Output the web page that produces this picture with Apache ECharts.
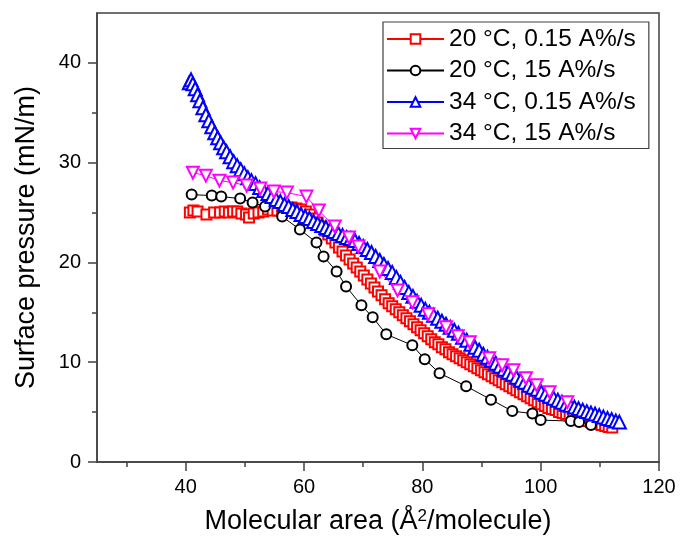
<!DOCTYPE html>
<html>
<head>
<meta charset="utf-8">
<script src="https://cdn.jsdelivr.net/npm/echarts@6/dist/echarts.min.js"></script>
<style>
  html, body { margin: 0; padding: 0; background: #fff; }
  #chart { width: 681px; height: 540px; }
</style>
</head>
<body>
<div id="chart"></div>
<script>
// 刻度
var xTicks = [40, 60, 80, 100, 120];
var xMinor = [30, 50, 70, 90, 110];
var yTicks = [0, 10, 20, 30, 40];
var yMinor = [5, 15, 25, 35];

var seriesNames = ['20 °C, 0.15 A%/s', '20 °C, 15 A%/s', '34 °C, 0.15 A%/s', '34 °C, 15 A%/s'];

// 20 °C, 0.15 A%/s
var red = [[40.7,25.0],[41.3,25.2],[42.0,25.1],[43.5,24.8],[44.8,25.0],[45.8,25.0],[46.6,25.1],[47.3,25.0],[48.0,25.1],[48.7,25.1],
  [49.4,24.9],[50.2,24.8],[50.7,24.5],[51.5,24.9],[52.3,25.0],[53.1,25.1],[53.9,25.3],[54.7,25.2],[55.5,25.2],[56.3,25.3],
  [57.1,25.4],[57.9,25.5],[58.7,25.4],[59.5,25.3],[60.3,25.1],[61.0,24.8],[61.7,24.4],[62.3,24.0],[62.9,23.6],[63.5,23.2],
  [64.1,22.8],[64.7,22.4],[65.3,22.0],[65.9,21.5],[66.5,21.1],[67.1,20.7],[67.7,20.3],[68.3,19.9],[68.9,19.5],[69.5,19.1],
  [70.1,18.7],[70.7,18.3],[71.3,17.9],[71.9,17.5],[72.5,17.1],[73.1,16.7],[73.7,16.3],[74.3,15.9],[74.9,15.6],[75.5,15.3],
  [76.1,15.0],[76.7,14.7],[77.3,14.4],[77.9,14.1],[78.5,13.8],[79.1,13.5],[79.7,13.2],[80.3,12.9],[80.9,12.6],[81.5,12.3],
  [82.1,12.0],[82.7,11.8],[83.3,11.5],[83.9,11.3],[84.5,11.0],[85.1,10.8],[85.7,10.6],[86.3,10.4],[86.9,10.2],[87.5,10.0],
  [88.1,9.8],[88.7,9.6],[89.3,9.4],[89.9,9.2],[90.5,9.0],[91.1,8.8],[91.7,8.6],[92.3,8.4],[92.9,8.2],[93.5,8.0],
  [94.1,7.8],[94.7,7.6],[95.3,7.4],[95.9,7.2],[96.5,7.0],[97.1,6.8],[97.7,6.6],[98.3,6.4],[98.9,6.2],[99.5,6.0],
  [100.1,5.8],[100.7,5.6],[101.3,5.4],[101.9,5.3],[102.5,5.2],[103.1,5.0],[103.7,4.9],[104.3,4.8],[104.9,4.6],[105.5,4.5],
  [106.1,4.4],[106.7,4.3],[107.3,4.2],[107.9,4.1],[108.5,4.0],[109.1,3.9],[109.7,3.8],[110.3,3.7],[110.9,3.6],[111.5,3.5],[112.1,3.45]];

// 20 °C, 15 A%/s
var black = [[41.0,26.8],[44.4,26.7],[46.0,26.6],[49.2,26.4],[51.3,26.0],[53.4,25.6],[56.3,24.6],[59.3,23.3],[62.1,22.0],[63.3,20.6],
  [65.5,19.1],[67.1,17.6],[69.7,15.7],[71.6,14.5],[73.9,12.8],[78.3,11.7],[80.4,10.3],[82.9,8.9],[87.4,7.6],[91.6,6.25],
  [95.2,5.1],[98.6,4.85],[100.0,4.2],[105.1,4.1],[106.5,4.0],[108.5,3.7]];

// 34 °C, 0.15 A%/s
var blue = [[40.6,38.0],[40.9,38.3],[41.2,37.9],[41.6,37.4],[42.0,36.8],[42.4,36.2],[42.9,35.5],[43.4,34.8],[43.9,34.2],[44.4,33.6],
  [44.9,33.0],[45.4,32.5],[45.9,32.0],[46.4,31.5],[46.9,31.1],[47.5,30.6],[48.1,30.1],[48.7,29.7],[49.3,29.3],[49.9,28.9],
  [50.5,28.5],[51.1,28.2],[51.8,27.9],[52.5,27.5],[53.2,27.2],[53.9,26.9],[54.6,26.6],[55.3,26.3],[56.0,26.1],[56.7,25.8],
  [57.4,25.6],[58.1,25.3],[58.8,25.1],[59.5,24.8],[60.2,24.6],[60.9,24.4],[61.6,24.1],[62.3,23.9],[63.0,23.7],[63.7,23.5],
  [64.4,23.3],[65.1,23.1],[65.8,22.9],[66.5,22.7],[67.2,22.5],[67.9,22.4],[68.6,22.2],[69.3,21.9],[70.0,21.6],[70.7,21.3],
  [71.4,21.0],[72.1,20.6],[72.8,20.2],[73.5,19.8],[74.2,19.4],[74.9,19.0],[75.6,18.5],[76.3,18.0],[77.0,17.5],[77.7,17.0],
  [78.4,16.6],[79.1,16.1],[79.8,15.7],[80.5,15.3],[81.2,15.0],[81.9,14.7],[82.6,14.4],[83.3,14.1],[84.0,13.8],[84.7,13.5],
  [85.4,13.2],[86.1,12.9],[86.8,12.5],[87.5,12.2],[88.2,11.8],[88.9,11.5],[89.6,11.2],[90.3,10.8],[91.0,10.5],[91.7,10.2],
  [92.4,9.9],[93.1,9.6],[93.8,9.3],[94.5,9.0],[95.2,8.8],[95.9,8.5],[96.6,8.2],[97.3,8.0],[98.0,7.7],[98.7,7.5],
  [99.4,7.3],[100.1,7.0],[100.8,6.8],[101.5,6.6],[102.2,6.4],[102.9,6.2],[103.6,6.0],[104.3,5.8],[105.0,5.7],[105.7,5.5],
  [106.4,5.35],[107.1,5.2],[107.8,5.05],[108.5,4.9],[109.2,4.8],[109.9,4.65],[110.6,4.5],[111.3,4.35],[112.0,4.25],[112.7,4.1],[113.3,4.0]];

// 34 °C, 15 A%/s
var magenta = [[41.2,29.0],[43.4,28.7],[45.7,28.2],[48.0,28.0],[50.3,27.7],[52.6,27.4],[54.9,27.1],[57.1,27.0],[60.4,26.6],[62.5,25.2],
  [65.2,23.6],[67.6,22.5],[69.2,21.6],[72.8,19.1],[75.8,17.2],[78.3,16.0],[81.0,14.8],[84.0,13.5],[86.0,12.6],[88.0,12.0],
  [91.3,10.4],[93.5,9.7],[95.4,9.2],[97.5,8.4],[99.3,7.7],[101.5,7.0],[104.5,6.0]];

var font = 'Liberation Sans, Arial, sans-serif';
var axisColor = '#404040';

var chart = echarts.init(document.getElementById('chart'));

function mkSeries(name, data, color, symbol, size, rotate) {
    return {
        name: name,
        type: 'line',
        data: data,
        symbol: symbol,
        symbolSize: size,
        symbolRotate: rotate || 0,
        showAllSymbol: true,
        lineStyle: { color: color, width: 1 },
        itemStyle: { color: color, borderColor: color, borderWidth: 1.2 }
    };
}

var option = {
    animation: false,
    backgroundColor: '#fff',
    grid: {
        left: 97, right: 22, top: 13, bottom: 76,
        show: true,
        borderColor: axisColor,
        borderWidth: 1.5
    },
    legend: {
        orient: 'vertical',
        left: 383,
        top: 22,
        padding: [4, 13, 2, 3],
        itemWidth: 57,
        itemHeight: 12,
        itemGap: 5.5,
        borderColor: axisColor,
        borderWidth: 1.2,
        selectedMode: false,
        textStyle: { fontFamily: font, fontSize: 24.5, color: '#000', lineHeight: 26 },
        data: seriesNames
    },
    xAxis: [{
        type: 'value',
        min: 25,
        max: 120,
        name: 'Molecular area (Å{sup|2}/molecule)',
        nameLocation: 'middle',
        nameGap: 46,
        nameTextStyle: {
            fontFamily: font, fontSize: 27, color: '#000',
            rich: { sup: { fontFamily: font, fontSize: 17, color: '#000', verticalAlign: 'top' } }
        },
        axisLine: { lineStyle: { color: axisColor, width: 1.5 } },
        axisTick: { show: true, length: 9, customValues: xTicks, lineStyle: { color: axisColor, width: 1.5 } },
        axisLabel: { customValues: xTicks, margin: 15, fontFamily: font, fontSize: 20, color: '#000' },
        splitLine: { show: false }
    }, {
        type: 'value',
        min: 25,
        max: 120,
        position: 'bottom',
        axisLine: { show: false },
        axisTick: { show: true, length: 5, customValues: xMinor, lineStyle: { color: axisColor, width: 1.5 } },
        axisLabel: { show: false },
        splitLine: { show: false }
    }],
    yAxis: [{
        type: 'value',
        min: 0,
        max: 45,
        name: 'Surface pressure (mN/m)',
        nameLocation: 'middle',
        nameGap: 57,
        nameTextStyle: { fontFamily: font, fontSize: 27, color: '#000' },
        axisLine: { show: true, lineStyle: { color: axisColor, width: 1.5 } },
        axisTick: { show: true, length: 9, customValues: yTicks, lineStyle: { color: axisColor, width: 1.5 } },
        axisLabel: { customValues: yTicks, margin: 16, fontFamily: font, fontSize: 20, color: '#000' },
        splitLine: { show: false }
    }, {
        type: 'value',
        min: 0,
        max: 45,
        position: 'left',
        axisLine: { show: false },
        axisTick: { show: true, length: 5, customValues: yMinor, lineStyle: { color: axisColor, width: 1.5 } },
        axisLabel: { show: false },
        splitLine: { show: false }
    }],
    series: [
        mkSeries(seriesNames[0], red, '#ff0000', 'emptyRect', 10),
        mkSeries(seriesNames[1], black, '#000000', 'emptyCircle', 10),
        mkSeries(seriesNames[2], blue, '#0000ff', 'emptyTriangle', 13),
        mkSeries(seriesNames[3], magenta, '#ff00ff', 'emptyTriangle', 12, 180)
    ]
};

chart.setOption(option);
</script>
</body>
</html>
